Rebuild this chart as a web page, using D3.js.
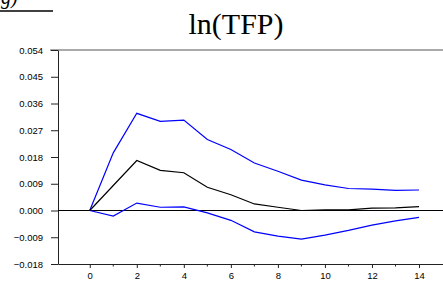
<!DOCTYPE html>
<html>
<head>
<meta charset="utf-8">
<script src="https://cdn.jsdelivr.net/npm/d3@7"></script>
<style>
  body { margin: 0; background: #fff; }
</style>
</head>
<body>
<div id="chart"></div>
<script>
var width = 443,
    height = 282;

// impulse response periods
var periods = d3.range(0, 15);
var response = [0, 0.0084, 0.0168, 0.0135, 0.0127, 0.0078, 0.0053, 0.0022, 0.0011, 0.0000, 0.0002, 0.0002, 0.0008, 0.0009, 0.0013];
var upperBand = [0, 0.0194, 0.0327, 0.0300, 0.0304, 0.0239, 0.0205, 0.0160, 0.0132, 0.0102, 0.0086, 0.0074, 0.0072, 0.0068, 0.0069];
var lowerBand = [0, -0.0019, 0.0025, 0.0011, 0.0012, -0.0008, -0.0033, -0.0072, -0.0086, -0.0096, -0.0083, -0.0067, -0.0049, -0.0035, -0.0023];
var yTicks = [-0.018, -0.009, 0, 0.009, 0.018, 0.027, 0.036, 0.045, 0.054];
var xTicks = [0, 2, 4, 6, 8, 10, 12, 14];

var svg = d3.select("#chart")
    .append("svg")
    .attr("width", width)
    .attr("height", height)
    .style("font-family", "Liberation Sans, Arial, sans-serif");

var x = d3.scaleLinear().domain([-1.35, 15.02]).range([58, 443]);
var y = d3.scaleLinear().domain([-0.018, 0.054]).range([264, 50]);

// cut-off fragment of the previous panel label
svg.append("text")
    .attr("x", 1)
    .attr("y", 4)
    .attr("font-family", "Liberation Serif, serif")
    .attr("font-style", "italic")
    .attr("font-size", 20)
    .text("g)");
svg.append("line")
    .attr("x1", 0).attr("x2", 53)
    .attr("y1", 11).attr("y2", 11)
    .attr("stroke", "#000")
    .attr("stroke-width", 1.5);

// title
svg.append("text")
    .attr("x", 236)
    .attr("y", 34)
    .attr("text-anchor", "middle")
    .attr("font-family", "Liberation Serif, Times New Roman, serif")
    .attr("font-size", 30)
    .text("ln(TFP)");

// top frame
svg.append("line")
    .attr("x1", 50).attr("x2", width)
    .attr("y1", y(0.054)).attr("y2", y(0.054))
    .attr("stroke", "#555");

// y axis
var yAxis = svg.append("g")
    .attr("transform", "translate(" + x.range()[0] + ",0)")
    .call(d3.axisLeft(y).tickValues(yTicks).tickSize(7).tickPadding(8).tickSizeOuter(0)
        .tickFormat(d3.format(".3f")));
yAxis.selectAll("text").attr("font-size", 9.5).attr("fill", "#000").attr("font-family", null);
yAxis.selectAll("line, path").attr("stroke", "#222");

// x axis
var xAxis = svg.append("g")
    .attr("transform", "translate(0," + y(-0.018) + ")")
    .call(d3.axisBottom(x).tickValues(xTicks).tickSize(4).tickPadding(4).tickSizeOuter(0)
        .tickFormat(d3.format("d")));
xAxis.selectAll("text").attr("font-size", 9.5).attr("fill", "#000").attr("font-family", null);
xAxis.selectAll("line, path").attr("stroke", "#222");

// minor ticks on odd periods
svg.append("g")
    .selectAll("line")
    .data([1, 3, 5, 7, 9, 11, 13])
    .enter().append("line")
    .attr("x1", function (d) { return x(d); })
    .attr("x2", function (d) { return x(d); })
    .attr("y1", y(-0.018))
    .attr("y2", y(-0.018) + 2.5)
    .attr("stroke", "#222");

// zero line
svg.append("line")
    .attr("x1", x.range()[0]).attr("x2", width)
    .attr("y1", y(0)).attr("y2", y(0))
    .attr("stroke", "#000");

var line = d3.line()
    .x(function (d, i) { return x(periods[i]); })
    .y(function (d) { return y(d); });

svg.append("path")
    .attr("d", line(upperBand))
    .attr("fill", "none")
    .attr("stroke", "#0000ff")
    .attr("stroke-width", 1.2);

svg.append("path")
    .attr("d", line(lowerBand))
    .attr("fill", "none")
    .attr("stroke", "#0000ff")
    .attr("stroke-width", 1.2);

svg.append("path")
    .attr("d", line(response))
    .attr("fill", "none")
    .attr("stroke", "#000")
    .attr("stroke-width", 1.2);
</script>
</body>
</html>
